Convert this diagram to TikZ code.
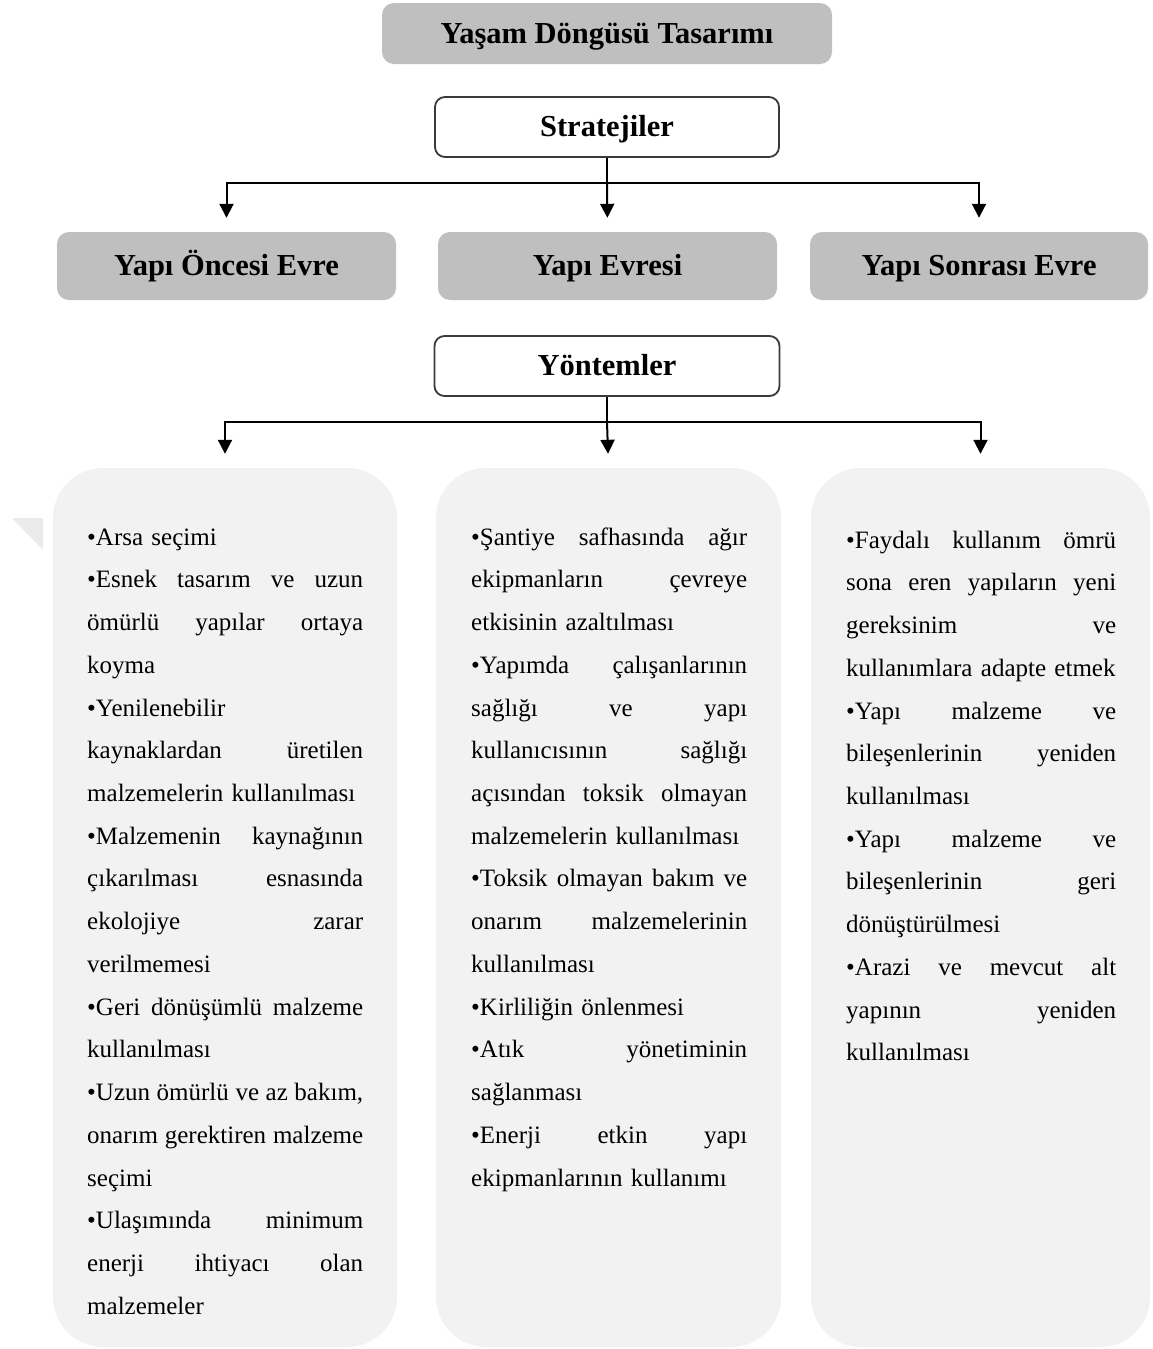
\documentclass[tikz,border=0pt]{standalone}
\usepackage{fontspec}
\setmainfont{Liberation Serif}
\usetikzlibrary{arrows.meta}
\definecolor{hgray}{HTML}{BFBFBF}
\definecolor{pgray}{HTML}{F2F2F2}
\definecolor{fgray}{HTML}{3A3A3A}
\definecolor{tgray}{HTML}{EBEBEB}
% a justified line: interword spaces stretched evenly to the full column width
\newcommand\jl[1]{\leavevmode\hbox to\hsize{\spaceskip=.25em plus 1fil\xspaceskip=\spaceskip #1}}
\begin{document}
\begin{tikzpicture}[x=1pt,y=-1pt,
  head/.style={rounded corners=12pt, fill=hgray, draw=none, inner sep=0pt,
    text height=25pt, text depth=6pt,
    font=\fontsize{30.5}{34}\selectfont\bfseries},
  frame/.style={rounded corners=10pt, fill=white, draw=fgray, line width=1.8pt,
    inner sep=0pt, text height=25pt, text depth=6pt,
    font=\fontsize{30.5}{34}\selectfont\bfseries},
  panel/.style={rounded corners=50pt, fill=pgray, draw=none, inner sep=0pt},
  body/.style={anchor=north west, inner sep=0pt, align=left,
    font=\fontsize{25}{42.72}\selectfont},
  link/.style={line width=2pt, draw=black},
  arr/.style={link, -{Triangle[length=14pt,width=14pt]}, shorten >=14pt}]
\useasboundingbox (0,0) rectangle (1152,1349);
\fill[white] (0,0) rectangle (1152,1349);
\fill[tgray] (12,518) -- (43,518) -- (43,550) -- cycle;

% headings
\node[head, minimum width=450pt, minimum height=61pt] (title) at (607,33.5) {Yaşam Döngüsü Tasarımı};
\node[frame, minimum width=344pt, minimum height=60pt] (strat) at (607,127) {Stratejiler};
\node[head, minimum width=339pt, minimum height=68pt] (pre) at (226.5,266) {Yapı Öncesi Evre};
\node[head, minimum width=339pt, minimum height=68pt] (during) at (607.5,266) {Yapı Evresi};
\node[head, minimum width=338pt, minimum height=68pt] (post) at (979,266) {Yapı Sonrası Evre};
\node[frame, minimum width=345pt, minimum height=60pt] (meth) at (607,366) {Yöntemler};

% panels
\node[panel, minimum width=344pt, minimum height=879pt] (pA) at (225,907.5) {};
\node[panel, minimum width=345pt, minimum height=879pt] (pB) at (608.5,907.5) {};
\node[panel, minimum width=339pt, minimum height=879pt] (pC) at (980.5,907.5) {};

% connectors
\coordinate (sj) at (607,183);
\coordinate (mj) at (607,422);
\draw[link] (strat.south) -- (sj);
\draw[arr] (sj) -| (pre.north);
\draw[arr] (sj) -- (during.north);
\draw[arr] (sj) -| (post.north);
\draw[link] (meth.south) -- (mj);
\draw[arr] (mj) -| (pA.north);
\draw[arr] (mj) -- (pB.north);
\draw[arr] (mj) -| (pC.north);

% panel texts
\node[body, text width=276pt] (tA) at (87,515.1) {\strut•Arsa seçimi\\
\jl{•Esnek tasarım ve uzun}\\
\jl{ömürlü yapılar ortaya}\\
koyma\\
•Yenilenebilir\\
\jl{kaynaklardan üretilen}\\
malzemelerin kullanılması\\
\jl{•Malzemenin kaynağının}\\
\jl{çıkarılması esnasında}\\
\jl{ekolojiye zarar}\\
verilmemesi\\
\jl{•Geri dönüşümlü malzeme}\\
kullanılması\\
\jl{•Uzun ömürlü ve az bakım,}\\
\jl{onarım gerektiren malzeme}\\
seçimi\\
\jl{•Ulaşımında minimum}\\
\jl{enerji ihtiyacı olan}\\
malzemeler};

\node[body, text width=276pt] (tB) at (471,515.1) {\strut\jl{•Şantiye safhasında ağır}\\
\jl{ekipmanların çevreye}\\
etkisinin azaltılması\\
\jl{•Yapımda çalışanlarının}\\
\jl{sağlığı ve yapı}\\
\jl{kullanıcısının sağlığı}\\
\jl{açısından toksik olmayan}\\
malzemelerin kullanılması\\
\jl{•Toksik olmayan bakım ve}\\
\jl{onarım malzemelerinin}\\
kullanılması\\
•Kirliliğin önlenmesi\\
\jl{•Atık yönetiminin}\\
sağlanması\\
\jl{•Enerji etkin yapı}\\
ekipmanlarının kullanımı};

\node[body, text width=270pt] (tC) at (846,518.1) {\strut\jl{•Faydalı kullanım ömrü}\\
\jl{sona eren yapıların yeni}\\
\jl{gereksinim ve}\\
kullanımlara adapte etmek\\
\jl{•Yapı malzeme ve}\\
\jl{bileşenlerinin yeniden}\\
kullanılması\\
\jl{•Yapı malzeme ve}\\
\jl{bileşenlerinin geri}\\
dönüştürülmesi\\
\jl{•Arazi ve mevcut alt}\\
\jl{yapının yeniden}\\
kullanılması};
\end{tikzpicture}
\end{document}
